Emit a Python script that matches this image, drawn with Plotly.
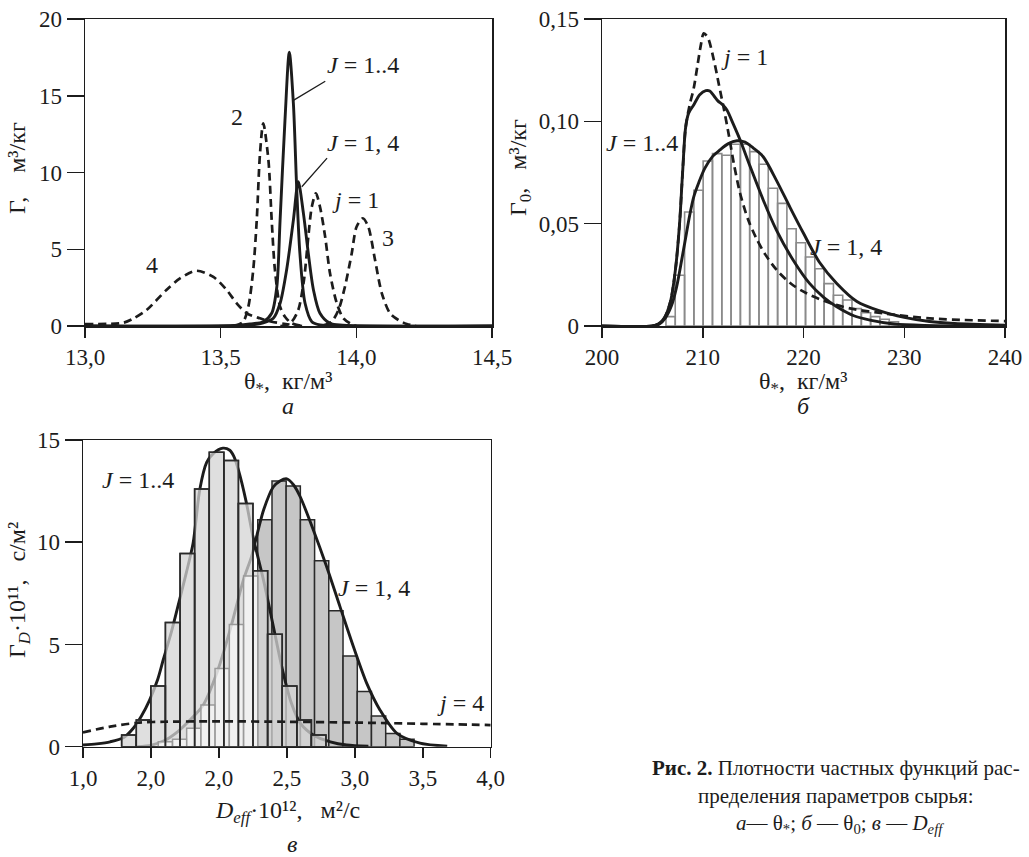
import plotly.graph_objects as go

FONT = "Liberation Serif"
INK = "#1c1c1c"
W, H = 1029, 857

# ---------------- panel а : θ* ----------------
a_xticks = [13.0, 13.5, 14.0, 14.5]
a_xticktext = ["13,0", "13,5", "14,0", "14,5"]
a_yticks = [0, 5, 10, 15, 20]

a_J1to4_x = [13.0, 13.55, 13.608, 13.657, 13.688, 13.707, 13.719, 13.737, 13.753, 13.768, 13.780, 13.792, 13.811, 13.836, 13.866, 13.95, 14.5]
a_J1to4_y = [0.0, 0.03, 0.13, 0.28, 0.83, 2.56, 6.9, 13.4, 17.83, 14.5, 9.07, 4.73, 1.48, 0.28, 0.07, 0.0, 0.0]
a_J1c4_x = [13.0, 13.60, 13.657, 13.694, 13.719, 13.743, 13.768, 13.786, 13.805, 13.823, 13.842, 13.866, 13.903, 13.95, 14.5]
a_J1c4_y = [0.0, 0.05, 0.2, 0.5, 1.48, 3.65, 6.9, 9.4, 7.34, 4.73, 2.35, 0.83, 0.17, 0.05, 0.0]
a_j2_x = [13.55, 13.583, 13.602, 13.620, 13.633, 13.645, 13.657, 13.676, 13.688, 13.700, 13.719, 13.737, 13.76, 13.80]
a_j2_y = [0.0, 0.28, 1.26, 3.65, 6.9, 11.25, 13.2, 10.8, 6.9, 3.65, 1.26, 0.6, 0.2, 0.0]
a_j4_x = [13.0, 13.141, 13.18, 13.227, 13.30, 13.35, 13.41, 13.473, 13.522, 13.559, 13.596, 13.645, 13.688, 13.74, 13.8]
a_j4_y = [0.13, 0.21, 0.5, 1.04, 2.35, 3.1, 3.6, 3.2, 2.35, 1.48, 0.83, 0.5, 0.28, 0.13, 0.0]
a_j1_x = [13.72, 13.74, 13.762, 13.786, 13.807, 13.823, 13.836, 13.851, 13.866, 13.885, 13.903, 13.928, 13.952, 13.977, 14.0]
a_j1_y = [0.0, 0.05, 0.28, 1.04, 3.0, 5.82, 7.77, 8.64, 7.77, 5.82, 3.43, 1.48, 0.5, 0.17, 0.0]
a_j3_x = [13.88, 13.909, 13.934, 13.958, 13.983, 14.001, 14.024, 14.044, 14.069, 14.094, 14.124, 14.155, 14.186, 14.22]
a_j3_y = [0.05, 0.28, 1.04, 2.56, 4.73, 6.47, 7.02, 6.47, 4.3, 2.13, 0.83, 0.39, 0.13, 0.0]

# ---------------- panel б : θ0 ----------------
b_xticks = [200, 210, 220, 230, 240]
b_yticks = [0, 0.05, 0.10, 0.15]
b_yticktext = ["0", "0,05", "0,10", "0,15"]

b_bin_centers = [206.81, 207.73, 208.66, 209.58, 210.50, 211.43, 212.35, 213.27, 214.20, 215.12,
                 216.04, 216.97, 217.89, 218.81, 219.74, 220.66, 221.58, 222.51, 223.43, 224.35,
                 225.28, 226.20, 227.12, 228.05, 228.97]
b_bin_values = [0.0046, 0.0248, 0.0557, 0.0663, 0.0806, 0.0842, 0.0834, 0.0888, 0.0888, 0.0852,
                0.0790, 0.0673, 0.0599, 0.0475, 0.0407, 0.0337, 0.0280, 0.0207, 0.0150, 0.0127,
                0.0085, 0.0065, 0.0046, 0.0033, 0.0021]
b_bin_width = 0.923

b_J1to4_x = [200, 205.0, 205.6, 206.2, 206.8, 207.3, 207.7, 208.0, 208.3, 208.6, 209.1, 209.7, 210.3, 210.7,
             211.1, 211.5, 212.0, 212.4, 213.0, 213.7, 214.7, 216.0, 217.3, 219.0, 220.6, 222.0, 223.3,
             225.0, 226.6, 229.0, 232.0, 240.0]
b_J1to4_y = [0, 0, 0.001, 0.004, 0.012, 0.028, 0.050, 0.075, 0.097, 0.104, 0.108, 0.113, 0.115, 0.1148,
             0.1125, 0.110, 0.108, 0.1055, 0.099, 0.091, 0.078, 0.0616, 0.047, 0.032, 0.0208, 0.014, 0.0094,
             0.005, 0.0029, 0.001, 0.0003, 0]
b_J1c4_x = [200, 205.0, 205.7, 206.3, 206.9, 207.4, 207.9, 208.3, 208.7, 209.1, 209.6, 210.2, 211.0, 211.7,
            212.5, 213.4, 214.2, 215.0, 216.0, 217.3, 218.66, 220.0, 221.6, 223.3, 225.3, 227.5, 230.0,
            232.5, 235.0, 240.0]
b_J1c4_y = [0, 0, 0.001, 0.004, 0.010, 0.019, 0.032, 0.043, 0.054, 0.063, 0.070, 0.077, 0.083, 0.086,
            0.089, 0.0905, 0.0898, 0.087, 0.0827, 0.0713, 0.058, 0.0453, 0.031, 0.0208, 0.012, 0.0075, 0.0042,
            0.0022, 0.0012, 0.0004]
b_j1_x = [205.0, 205.6, 206.2, 206.8, 207.3, 207.7, 208.0, 208.3, 208.7, 209.1, 209.5, 209.8, 210.1, 210.5,
          211.1, 211.6, 212.1, 212.6, 213.1, 213.7, 214.5, 215.3, 216.2, 217.4, 218.8, 220.3, 222.3, 224.6,
          227.9, 232.9, 240.0]
b_j1_y = [0, 0.001, 0.004, 0.012, 0.028, 0.050, 0.075, 0.097, 0.108, 0.116, 0.128, 0.137, 0.143, 0.141,
          0.130, 0.118, 0.106, 0.093, 0.079, 0.065, 0.052, 0.043, 0.035, 0.027, 0.0205, 0.016, 0.0118, 0.0086,
          0.0062, 0.0036, 0.0024]

# ---------------- panel в : D_eff ----------------
c_xticks = [1.0, 1.5, 2.0, 2.5, 3.0, 3.5, 4.0]
c_xticktext = ["1,0", "2,0", "2,0", "2,5", "3,0", "3,5", "4,0"]
c_yticks = [0, 5, 10, 15]

c_A_centers = [1.338, 1.446, 1.553, 1.660, 1.768, 1.875, 1.983, 2.090, 2.197, 2.305, 2.412, 2.520, 2.627, 2.734]
c_A_values = [0.57, 1.30, 2.97, 6.08, 9.45, 12.6, 14.4, 14.0, 11.9, 8.6, 5.5, 2.97, 1.30, 0.57]
c_A_width = 0.1074
c_B_centers = [1.606, 1.711, 1.815, 1.920, 2.024, 2.129, 2.234, 2.338, 2.443, 2.547, 2.652, 2.756, 2.861,
               2.966, 3.070, 3.175, 3.280, 3.384]
c_B_values = [0.24, 0.37, 0.90, 2.04, 3.83, 5.98, 8.35, 11.1, 13.0, 12.75, 11.1, 9.1, 6.65, 4.43, 2.7, 1.5,
              0.65, 0.36]
c_B_width = 0.1046
c_B_split = 7  # bins left of this index are overlapped by the J = 1..4 histogram

c_J1to4_x = [1.0, 1.1, 1.2, 1.3, 1.37, 1.43, 1.49, 1.55, 1.59, 1.65, 1.71, 1.76, 1.81, 1.86, 1.91, 1.96, 2.03,
             2.08, 2.11, 2.145, 2.2, 2.25, 2.33, 2.40, 2.47, 2.535, 2.6, 2.7, 2.82, 2.94, 3.1]
c_J1to4_y = [0.08, 0.14, 0.24, 0.45, 0.9, 1.5, 2.28, 3.3, 4.24, 5.6, 7.17, 8.5, 9.95, 12.6, 13.9, 14.35, 14.6,
             14.5, 14.2, 13.5, 12.0, 10.3, 8.1, 5.9, 3.7, 2.1, 1.14, 0.55, 0.24, 0.08, 0.02]
c_J1c4_x = [1.40, 1.505, 1.60, 1.70, 1.787, 1.885, 1.984, 2.082, 2.18, 2.24, 2.28, 2.33, 2.40, 2.45, 2.50,
            2.55, 2.60, 2.695, 2.793, 2.891, 2.99, 3.088, 3.185, 3.31, 3.48, 3.68]
c_J1c4_y = [0.0, 0.08, 0.3, 0.75, 1.3, 2.04, 3.59, 5.7, 8.15, 9.3, 10.35, 11.6, 12.7, 13.0, 13.1, 12.8, 12.2,
            10.6, 8.8, 6.85, 4.89, 3.1, 1.8, 0.65, 0.17, 0.02]
c_j4_x = [1.0, 1.2, 1.4, 1.6, 2.0, 2.5, 3.0, 3.5, 4.0]
c_j4_y = [0.70, 0.98, 1.17, 1.22, 1.24, 1.22, 1.18, 1.12, 1.06]


def px(x):
    return x / W


def py(y):
    return 1 - y / H


TICK_SIZE = 23
TITLE_SIZE = 24
LABEL_SIZE = 24
CAPTION_SIZE = 21

SOLID = dict(color=INK, width=2.9, shape="spline", smoothing=0.8)
DASH = dict(color=INK, width=2.7, dash="8px,5px", shape="spline", smoothing=0.8)

fig = go.Figure()


def line(x, y, style, xa, ya):
    fig.add_trace(go.Scatter(x=x, y=y, mode="lines", line=style, xaxis=xa, yaxis=ya,
                             showlegend=False, hoverinfo="skip"))


# panel а
for xs, ys in [(a_j4_x, a_j4_y), (a_j2_x, a_j2_y), (a_j1_x, a_j1_y), (a_j3_x, a_j3_y)]:
    line(xs, ys, DASH, "x", "y")
line(a_J1c4_x, a_J1c4_y, SOLID, "x", "y")
line(a_J1to4_x, a_J1to4_y, SOLID, "x", "y")

# panel б
fig.add_trace(go.Bar(x=b_bin_centers, y=b_bin_values, width=b_bin_width, xaxis="x2", yaxis="y2",
                     marker=dict(color="rgba(255,255,255,0)", line=dict(color="#8a8a8a", width=1.6)),
                     showlegend=False, hoverinfo="skip"))
line(b_j1_x, b_j1_y, DASH, "x2", "y2")
line(b_J1c4_x, b_J1c4_y, SOLID, "x2", "y2")
line(b_J1to4_x, b_J1to4_y, SOLID, "x2", "y2")

# panel в : base layer (right histogram + curves)
fig.add_trace(go.Bar(x=c_B_centers[c_B_split:], y=c_B_values[c_B_split:], width=c_B_width,
                     xaxis="x3", yaxis="y3",
                     marker=dict(color="#c6c6c6", line=dict(color="#2a2a2a", width=1.5)),
                     showlegend=False, hoverinfo="skip"))
line(c_J1to4_x, c_J1to4_y, SOLID, "x3", "y3")
line(c_J1c4_x, c_J1c4_y, SOLID, "x3", "y3")
# panel в : overlay layer (semi-transparent histogram on top of the curves)
fig.add_trace(go.Bar(x=c_A_centers, y=c_A_values, width=c_A_width, xaxis="x3", yaxis="y4",
                     marker=dict(color="rgba(212,212,212,0.75)", line=dict(color="#2a2a2a", width=1.5)),
                     showlegend=False, hoverinfo="skip"))
fig.add_trace(go.Bar(x=c_B_centers[:c_B_split], y=c_B_values[:c_B_split], width=c_B_width,
                     xaxis="x3", yaxis="y4",
                     marker=dict(color="rgba(255,255,255,0.55)", line=dict(color="#9a9a9a", width=1.5)),
                     showlegend=False, hoverinfo="skip"))
fig.add_trace(go.Bar(x=c_A_centers, y=c_A_values, width=c_A_width, xaxis="x3", yaxis="y4",
                     marker=dict(color="rgba(0,0,0,0)", line=dict(color="#2a2a2a", width=1.5)),
                     showlegend=False, hoverinfo="skip"))
line(c_j4_x, c_j4_y, DASH, "x3", "y4")


def ax(domain, rng, tickvals, ticktext, anchor, ticklen):
    return dict(domain=domain, range=rng, tickvals=tickvals, ticktext=ticktext, anchor=anchor,
                showline=True, linecolor=INK, linewidth=1.5, mirror=True, ticks="outside",
                ticklen=ticklen, tickwidth=1.5, tickcolor=INK, showgrid=False, zeroline=False,
                automargin=False,
                tickfont=dict(family=FONT, size=TICK_SIZE, color=INK), fixedrange=True)


fig.update_layout(
    width=W, height=H, autosize=False,
    margin=dict(l=0, r=0, t=0, b=0, pad=0, autoexpand=False),
    paper_bgcolor="white", plot_bgcolor="white",
    barmode="overlay", bargap=0, hovermode=False, showlegend=False,
    xaxis=ax([px(85), px(492)], [13.0, 14.5], a_xticks, a_xticktext, "y", 10),
    yaxis=ax([py(326), py(19)], [0, 20], a_yticks, [str(v) for v in a_yticks], "x", 17),
    xaxis2=ax([px(602), px(1005)], [200, 240], b_xticks, [str(v) for v in b_xticks], "y2", 10),
    yaxis2=ax([py(326), py(19)], [0, 0.15], b_yticks, b_yticktext, "x2", 17),
    xaxis3=ax([px(83), px(490.7)], [1.0, 4.0], c_xticks, c_xticktext, "y3", 10),
    yaxis3=ax([py(746.7), py(440)], [0, 15], c_yticks, [str(v) for v in c_yticks], "x3", 17),
    yaxis4=dict(overlaying="y3", range=[0, 15], visible=False, anchor="x3", fixedrange=True,
                automargin=False),
)

ann = []


def txt(text, x, y, xref="paper", yref="paper", size=LABEL_SIZE, angle=0, xanchor="center"):
    ann.append(dict(text=text, x=x, y=y, xref=xref, yref=yref, showarrow=False, textangle=angle,
                    xanchor=xanchor, yanchor="middle", font=dict(family=FONT, size=size, color=INK)))


def leader(x0, y0, x1, y1, xref, yref):
    ann.append(dict(text="", x=x1, y=y1, ax=x0, ay=y0, xref=xref, yref=yref, axref=xref, ayref=yref,
                    showarrow=True, arrowhead=0, arrowwidth=1.3, arrowcolor=INK, standoff=0,
                    startstandoff=0))


NB = "\u00a0"
# axis titles & panel letters
txt("Г," + NB * 4 + "м³/кг", px(17), py(168), size=TITLE_SIZE, angle=-90)
txt("θ<sub>*</sub>," + NB * 2 + "кг/м³", px(288), py(383), size=TITLE_SIZE)
txt("<i>а</i>", px(288), py(406), size=LABEL_SIZE)
txt("Г<sub>0</sub>," + NB * 3 + "м³/кг", px(520), py(168), size=TITLE_SIZE, angle=-90)
txt("θ<sub>*</sub>," + NB * 2 + "кг/м³", px(803), py(383), size=TITLE_SIZE)
txt("<i>б</i>", px(803), py(406), size=LABEL_SIZE)
txt("Г<sub><i>D</i></sub>·10¹¹," + NB * 3 + "с/м²", px(19), py(590), size=TITLE_SIZE, angle=-90)
txt("<i>D</i><sub><i>eff</i></sub>·10¹²," + NB * 3 + "м²/с", px(287), py(812), size=TITLE_SIZE)
txt("<i>в</i>", px(292), py(844), size=LABEL_SIZE)

# curve labels, panel а
txt("<i>J</i> = 1..4", 13.885, 17.0, "x", "y", xanchor="left")
txt("<i>J</i> = 1, 4", 13.885, 11.9, "x", "y", xanchor="left")
txt("<i>j</i> = 1", 13.903, 8.2, "x", "y", xanchor="left")
txt("2", 13.559, 13.6, "x", "y")
txt("3", 14.118, 5.71, "x", "y")
txt("4", 13.246, 3.97, "x", "y")
leader(13.891, 16.0, 13.768, 14.7, "x", "y")
leader(13.897, 11.03, 13.799, 9.07, "x", "y")

# curve labels, panel б
txt("<i>j</i> = 1", 214.1, 0.1316, "x2", "y2")
txt("<i>J</i> = 1..4", 204.0, 0.0893, "x2", "y2")
txt("<i>J</i> = 1, 4", 224.25, 0.0387, "x2", "y2")

# curve labels, panel в
txt("<i>J</i> = 1..4", 1.401, 13.04, "x3", "y3")
txt("<i>J</i> = 1, 4", 3.141, 7.75, "x3", "y3")
txt("<i>j</i> = 4", 3.781, 2.12, "x3", "y3")

# caption
txt("<b>Рис. 2.</b> Плотности частных функций рас-", px(836), py(768), size=CAPTION_SIZE)
txt("пределения параметров сырья:", px(836), py(796), size=CAPTION_SIZE)
txt("<i>а</i>— θ<sub>*</sub>; <i>б</i> — θ<sub>0</sub>; <i>в</i> — <i>D</i><sub><i>eff</i></sub>",
    px(840), py(824), size=CAPTION_SIZE)

fig.update_layout(annotations=ann)

fig.write_html("out.html", config={"displayModeBar": False, "staticPlot": True},
               post_script="document.body.style.margin='0';document.body.style.overflow='hidden';")
